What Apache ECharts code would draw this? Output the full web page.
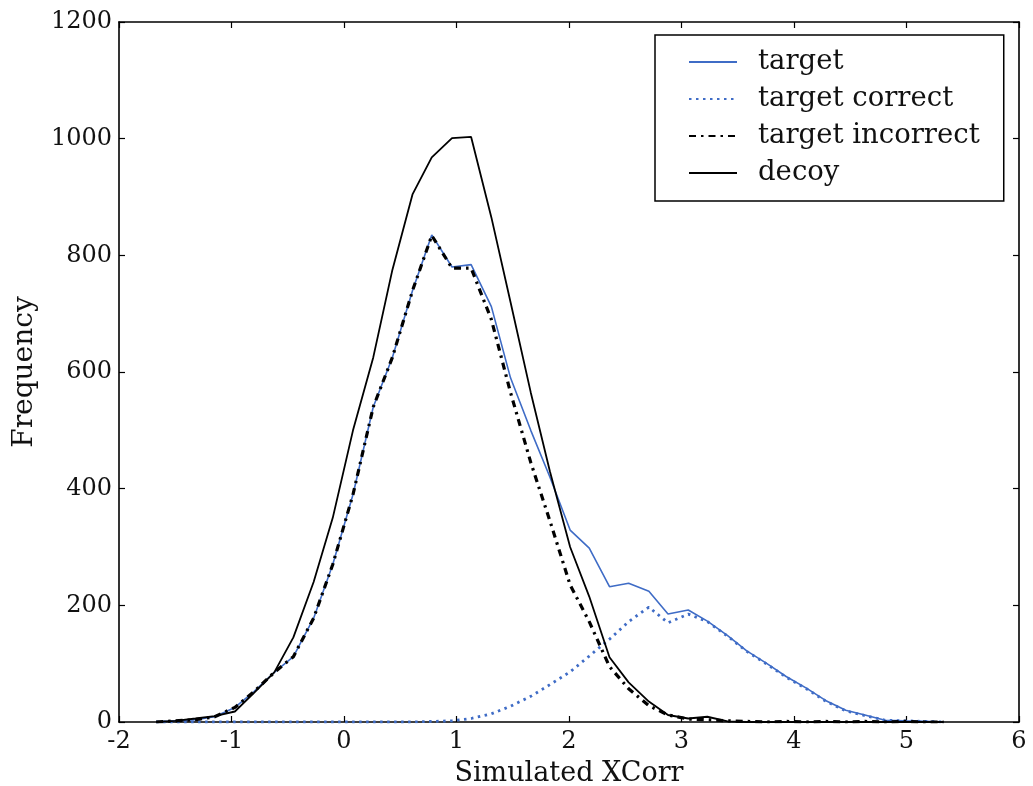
<!DOCTYPE html>
<html>
<head>
<meta charset="utf-8">
<script src="https://cdn.jsdelivr.net/npm/echarts@6/dist/echarts.min.js"></script>
<style>
html,body{margin:0;padding:0;background:#fff;}
#chart{width:1033px;height:786px;}
</style>
</head>
<body>
<div id="chart"></div>
<script>
// bin centres (Simulated XCorr)
const xValues = [-1.67,-1.50,-1.32,-1.15,-0.97,-0.80,-0.62,-0.45,-0.27,-0.10,
  0.08,0.26,0.43,0.61,0.78,0.96,1.13,1.31,1.48,1.66,
  1.83,2.01,2.18,2.36,2.53,2.71,2.88,3.06,3.23,3.41,
  3.58,3.76,3.93,4.11,4.28,4.46,4.63,4.81,4.98,5.16,5.33];

const target = [0,2,4,9,25,52,85,112,178,270,
  390,540,625,740,835,780,784,712,590,500,
  420,329,298,232,238,224,185,192,173,148,
  122,100,78,58,37,20,12,3,2,1,0];

const targetCorrect = [0,0,0,0,0,0,0,0,0,0,
  0,0,0,0,1,2,6,14,27,44,
  64,86,113,142,172,197,170,185,172,147,
  121,99,77,57,36,19,11,3,2,1,0];

const targetIncorrect = [0,2,4,9,25,52,85,112,178,270,
  390,540,625,740,834,778,778,690,565,445,
  345,235,172,95,57,28,12,5,4,2,
  1,0,1,0,1,0,1,0,1,0,0];

const decoy = [0,2,6,10,18,50,85,145,240,350,
  500,625,775,905,968,1001,1003,865,720,565,
  430,300,215,111,68,35,12,6,9,1,
  0,0,0,0,0,0,0,0,0,0,0];

const seriesNames = ['target','target correct','target incorrect','decoy'];
const xTicks = [-2,-1,0,1,2,3,4,5,6];
const yTicks = [0,200,400,600,800,1000,1200];

const BLUE = '#3f6cc6';
const FONT = 'DejaVu Serif';

function pairs(ys){ return xValues.map((x,i)=>[x, ys[i]]); }

const chart = echarts.init(document.getElementById('chart'), null, {renderer:'canvas'});

const tickStyle = {show:true, inside:true, length:6, lineStyle:{color:'#000', width:1.2}};
const axisLineStyle = {show:true, onZero:false, lineStyle:{color:'#000', width:1.6}};

chart.setOption({
  animation:false,
  backgroundColor:'#fff',
  grid:{left:119, right:14, top:22, bottom:64, containLabel:false, outerBoundsMode:'none'},
  legend:{
    orient:'vertical',
    left:655, top:35,
    data: seriesNames,
    itemWidth:48, itemHeight:14, itemGap:9,
    borderColor:'#000', borderWidth:1.5, borderRadius:0,
    padding:[13,24,14,33],
    backgroundColor:'#fff',
    itemStyle:{opacity:0},
    textStyle:{fontFamily:FONT, fontSize:27.5, color:'#111', padding:[0,0,0,16]}
  },
  xAxis:[{
    type:'value', min:xTicks[0], max:xTicks[xTicks.length-1], interval:1,
    position:'bottom',
    axisLine:axisLineStyle, axisTick:tickStyle,
    splitLine:{show:false},
    axisLabel:{fontFamily:FONT, fontSize:24, color:'#111', margin:8, formatter:v=>String(v)},
    name:'Simulated XCorr', nameLocation:'middle', nameGap:38,
    nameTextStyle:{fontFamily:FONT, fontSize:27, color:'#111'}
  },{
    type:'value', min:xTicks[0], max:xTicks[xTicks.length-1], interval:1,
    position:'top',
    axisLine:axisLineStyle, axisTick:tickStyle,
    splitLine:{show:false}, axisLabel:{show:false}
  }],
  yAxis:[{
    type:'value', min:yTicks[0], max:yTicks[yTicks.length-1], interval:200,
    position:'left',
    axisLine:axisLineStyle, axisTick:tickStyle,
    splitLine:{show:false},
    axisLabel:{fontFamily:FONT, fontSize:24, color:'#111', margin:7, formatter:v=>String(v)},
    name:'Frequency', nameLocation:'middle', nameGap:80, nameRotate:90,
    nameTextStyle:{fontFamily:FONT, fontSize:28, color:'#111'}
  },{
    type:'value', min:yTicks[0], max:yTicks[yTicks.length-1], interval:200,
    position:'right',
    axisLine:axisLineStyle, axisTick:tickStyle,
    splitLine:{show:false}, axisLabel:{show:false}
  }],
  series:[
    {name:seriesNames[0], type:'line', data:pairs(target), symbol:'none',
     lineStyle:{color:BLUE, width:1.6}, itemStyle:{color:BLUE}},
    {name:seriesNames[1], type:'line', data:pairs(targetCorrect), symbol:'none',
     lineStyle:{color:BLUE, width:2.8, type:[2.5,4.5], cap:'butt'}, itemStyle:{color:BLUE}},
    {name:seriesNames[2], type:'line', data:pairs(targetIncorrect), symbol:'none',
     lineStyle:{color:'#000', width:3.2, type:[7,5,2.5,5], cap:'butt'}, itemStyle:{color:'#000'}},
    {name:seriesNames[3], type:'line', data:pairs(decoy), symbol:'none',
     lineStyle:{color:'#000', width:1.8}, itemStyle:{color:'#000'}}
  ]
});
</script>
</body>
</html>
